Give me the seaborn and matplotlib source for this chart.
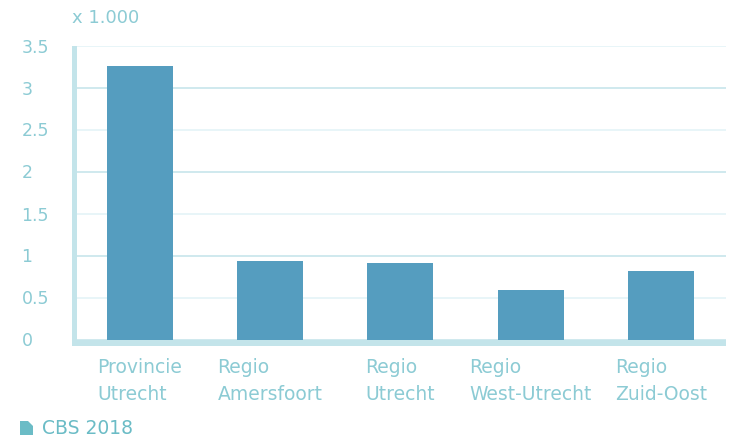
"""Bar chart of regional counts, CBS 2018."""
import matplotlib.patches as patches
import matplotlib.pyplot as plt
import pandas as pd
import seaborn as sns

REGIONS = ["Provincie\nUtrecht", "Regio\nAmersfoort", "Regio\nUtrecht", "Regio\nWest-Utrecht", "Regio\nZuid-Oost"]
VALUES = [3.26, 0.93, 0.905, 0.595, 0.815]
Y_TICKS = [0, 0.5, 1, 1.5, 2, 2.5, 3, 3.5]
Y_LABELS = ["0", "0.5", "1", "1.5", "2", "2.5", "3", "3.5"]

BAR_COLOR = "#559dbf"
AXIS_COLOR = "#c3e4ea"
GRID_STRONG = "#cfe9ee"
GRID_LIGHT = "#e8f5f8"
TEXT_COLOR = "#8ccbd4"
SOURCE_COLOR = "#6bbcc6"

W, H = 732, 441

sns.set_theme(style="white")
plt.rcParams["font.family"] = ["DejaVu Sans"]

fig = plt.figure(figsize=(W / 100, H / 100), dpi=100)
ax = fig.add_axes([76 / W, (H - 339.5) / H, 650 / W, 294 / H])

df = pd.DataFrame({"region": REGIONS, "value": VALUES})
sns.barplot(data=df, x="region", y="value", color=BAR_COLOR, saturation=1, width=0.505, linewidth=0, ax=ax, zorder=3)

ax.set_xlim(-0.49, 4.5)
ax.set_ylim(0, 3.5)
ax.set_xlabel("")
ax.set_ylabel("")

# whole numbers get a stronger gridline than the halves
for tick in Y_TICKS:
    ax.axhline(tick, color=GRID_STRONG if tick == int(tick) else GRID_LIGHT, linewidth=1.4, zorder=1)

ax.set_yticks(Y_TICKS, Y_LABELS)
ax.tick_params(axis="y", length=0, pad=37.5, labelcolor=TEXT_COLOR, labelsize=12.5)
ax.set_xticks(range(len(REGIONS)), REGIONS)
ax.tick_params(axis="x", length=0, pad=10.8, labelcolor=TEXT_COLOR, labelsize=13.5)

for side in ["top", "right"]:
    ax.spines[side].set_visible(False)
ax.spines["left"].set_color(AXIS_COLOR)
ax.spines["left"].set_linewidth(3.6)
ax.spines["left"].set_position(("outward", 1.8))
ax.spines["left"].set_bounds(-0.04, 3.47)
ax.spines["bottom"].set_color(AXIS_COLOR)
ax.spines["bottom"].set_linewidth(4.3)
ax.spines["bottom"].set_position(("outward", 2.2))
ax.spines["bottom"].set_capstyle("butt")

fig.text(72 / W, 1 - 18 / H, "x 1.000", color=TEXT_COLOR, fontsize=13, va="center", ha="left")
fig.text(42 / W, 1 - 428 / H, "CBS 2018", color=SOURCE_COLOR, fontsize=13.5, va="center", ha="left")

# small document icon in front of the source line
icon = [(20, 421), (28, 421), (33, 426), (33, 435), (20, 435)]
fig.add_artist(patches.Polygon([(x / W, 1 - y / H) for x, y in icon], closed=True,
                               transform=fig.transFigure, facecolor=SOURCE_COLOR, edgecolor="none"))

# tick props only stick once the ticks exist, so set alignment after a draw
fig.canvas.draw()
for label in ax.get_yticklabels():
    label.set_ha("left")
for label in ax.get_xticklabels():
    label.set_multialignment("left")
    label.set_linespacing(1.55)

fig.savefig("out.png", dpi=100)
plt.close(fig)
